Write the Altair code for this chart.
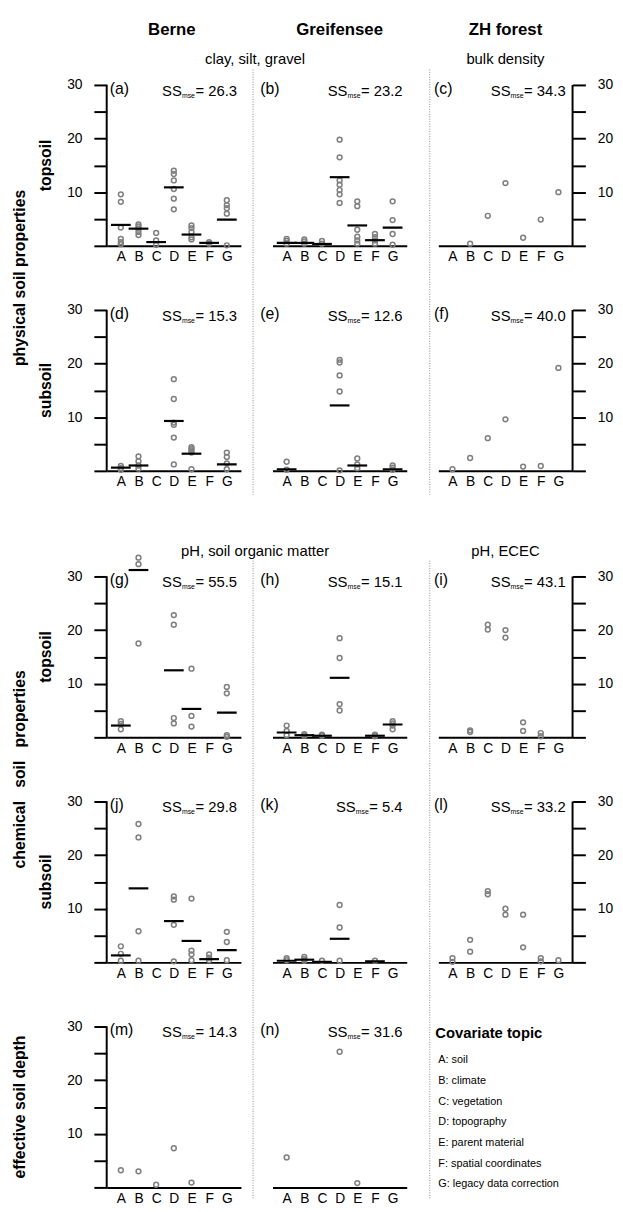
import altair as alt

FONT = "Liberation Sans"
TOPICS = ["A", "B", "C", "D", "E", "F", "G"]
Y_TICKS = [0, 5, 10, 15, 20, 25, 30]
COLUMN_TITLES = ["Berne", "Greifensee", "ZH forest"]
SECTION1 = ["clay, silt, gravel", "bulk density"]
SECTION2 = ["pH, soil organic matter", "pH, ECEC"]
ROW_GROUPS = ["physical soil properties", "chemical\u00a0\u00a0 soil\u00a0\u00a0 properties", "effective soil depth"]
LEGEND_TITLE = "Covariate topic"
LEGEND_ITEMS = ["A: soil", "B: climate", "C: vegetation", "D: topography",
                "E: parent material", "F: spatial coordinates", "G: legacy data correction"]

# ---- data (values per covariate topic) ----
a_pts = {"A": [9.6, 8.2, 3.4, 1.3, 0.7, 0.3], "B": [4.0, 3.6, 3.2, 2.6, 2.0], "C": [2.4, 1.0, 0.2],
         "D": [14.0, 13.4, 12.2, 10.6, 8.8, 6.8], "E": [3.8, 3.3, 2.6, 1.6, 1.2], "F": [0.7, 0.4],
         "G": [8.5, 7.6, 7.0, 6.0, 0.1]}
a_mean = {"A": 3.9, "B": 3.2, "C": 0.7, "D": 10.9, "E": 2.1, "F": 0.55, "G": 4.9}
b_pts = {"A": [1.3, 0.9, 0.4], "B": [1.2, 0.8, 0.4], "C": [0.9, 0.4],
         "D": [19.8, 16.5, 12.2, 11.4, 10.4, 9.6, 8.0], "E": [8.3, 7.4, 3.0, 1.7, 1.0, 0.4],
         "F": [2.2, 1.6, 1.0, 0.4], "G": [8.3, 4.8, 2.2, 0.2]}
b_mean = {"A": 0.55, "B": 0.55, "C": 0.35, "D": 12.8, "E": 3.8, "F": 1.05, "G": 3.4}
c_pts = {"B": [0.4], "C": [5.6], "D": [11.7], "E": [1.5], "F": [4.9], "G": [10.0]}
d_pts = {"A": [0.9, 0.5, 0.2], "B": [2.7, 1.8, 1.0, 0.4], "D": [17.1, 13.4, 9.0, 8.6, 6.2, 1.2],
         "E": [4.4, 4.1, 3.8, 3.4, 0.3], "G": [3.4, 2.6, 1.4, 0.3]}
d_mean = {"A": 0.6, "B": 1.0, "D": 9.3, "E": 3.2, "G": 1.2}
e_pts = {"A": [1.7, 0.2], "D": [20.7, 20.2, 17.8, 14.8, 0.1], "E": [2.3, 1.2, 0.5], "G": [1.0, 0.6, 0.2]}
e_mean = {"A": 0.3, "D": 12.2, "E": 1.0, "G": 0.3}
f_pts = {"A": [0.3], "B": [2.4], "C": [6.1], "D": [9.6], "E": [0.8], "F": [0.9], "G": [19.2]}
g_pts = {"A": [3.0, 2.5, 1.5], "B": [33.5, 32.3, 17.5], "D": [22.8, 21.0, 3.6, 2.6],
         "E": [12.8, 4.0, 2.0], "G": [9.4, 8.2, 0.4, 0.1]}
g_mean = {"A": 2.2, "B": 31.2, "D": 12.5, "E": 5.3, "G": 4.6}
h_pts = {"A": [2.2, 1.2, 0.4], "B": [0.6, 0.3], "C": [0.5, 0.3], "D": [18.5, 14.8, 6.2, 5.0],
         "F": [0.5, 0.2], "G": [3.0, 2.6, 2.2, 1.5]}
h_mean = {"A": 0.9, "B": 0.4, "C": 0.3, "D": 11.1, "F": 0.3, "G": 2.4}
i_pts = {"B": [1.3, 1.0], "C": [21.0, 20.1], "D": [20.0, 18.6], "E": [2.8, 1.2], "F": [0.8, 0.2]}
j_pts = {"A": [3.0, 1.6, 0.3], "B": [25.8, 23.3, 5.8, 0.3], "D": [12.3, 11.7, 7.0, 0.2],
         "E": [11.9, 2.2, 1.5, 0.4], "F": [1.5, 0.9, 0.4], "G": [5.7, 3.8, 0.4]}
j_mean = {"A": 1.3, "B": 13.8, "D": 7.7, "E": 4.0, "F": 0.6, "G": 2.3}
k_pts = {"A": [0.8, 0.4], "B": [1.0, 0.6, 0.3], "C": [0.3], "D": [10.7, 6.5, 0.3], "F": [0.3]}
k_mean = {"A": 0.3, "B": 0.5, "C": 0.1, "D": 4.4, "F": 0.2}
l_pts = {"A": [0.8, 0.1], "B": [4.2, 2.0], "C": [13.3, 12.7], "D": [10.0, 8.9], "E": [8.9, 2.8],
         "F": [0.8, 0.2], "G": [0.4]}
m_pts = {"A": [3.2], "B": [3.0], "C": [0.5], "D": [7.3], "E": [0.9]}
n_pts = {"A": [5.6], "D": [25.3], "E": [0.8]}
SS_MSE = {"a": 26.3, "b": 23.2, "c": 34.3, "d": 15.3, "e": 12.6, "f": 40.0, "g": 55.5,
          "h": 15.1, "i": 43.1, "j": 29.8, "k": 5.4, "l": 33.2, "m": 14.3, "n": 31.6}

# ---- layout ----
W, H = 136, 163
EXTRA = 42
GAP_R, GAP_C = 65, 32
GRAY = "#7f7f7f"
LABEL_DX = [3, -12.4, -4.4]
SS_RIGHT = [132, 131.8, 129]

ARIAL = {"=": 0.584, " ": 0.278, ".": 0.278, "m": 0.833, "s": 0.5, "e": 0.556, "S": 0.667}


def tw(s, fs):
    return sum(ARIAL.get(ch, 0.556) for ch in s) * fs


def txt(text, x, y, size=15, weight="normal", align="left", baseline="alphabetic", angle=0):
    mk = dict(text=text, fontSize=size, fontWeight=weight, align=align, baseline=baseline,
              color="black", font=FONT)
    if angle:
        mk["angle"] = angle
    return alt.Chart(alt.Data(values=[{}])).mark_text(**mk).encode(x=alt.value(x), y=alt.value(y))


def vrule(x, y1, y2):
    return alt.Chart(alt.Data(values=[{}])).mark_rule(
        color="#8a8a8a", strokeWidth=1, strokeDash=[1, 1.5]
    ).encode(x=alt.value(x), y=alt.value(y1), y2=alt.value(y2))


def yaxis(orient):
    return alt.Axis(orient=orient, values=Y_TICKS, domain=False, ticks=True, tickSize=13, tickWidth=2,
                    tickColor="black",
                    labelExpr="datum.value % 10 == 0 && datum.value > 0 ? datum.label : ''",
                    labelFontSize=14, labelFont=FONT, labelColor="black", labelPadding=12,
                    labelOverlap=False, labelFlush=False, labelBaseline="middle", grid=False, title=None)


XAXIS = alt.Axis(orient="bottom", domain=True, domainWidth=2, domainColor="black", ticks=False,
                 labelFontSize=14, labelFont=FONT, labelColor="black", labelPadding=4, labelAngle=0,
                 grid=False, title=None)


def panel(key, pts, means, col, extra=0, decor=()):
    h = H + extra
    ymax = 30.0 * h / H
    t = extra
    xs = alt.Scale(type="point", domain=TOPICS, padding=0.8)
    ys = alt.Scale(domain=[0, ymax], nice=False, zero=False)
    yax = yaxis("left") if col == 0 else (yaxis("right") if col == 2 else None)
    rows = [{"topic": k, "value": v} for k in TOPICS for v in pts.get(k, [])]
    layers = [alt.Chart(alt.Data(values=rows)).mark_point(
        filled=False, size=24, strokeWidth=1.5, color=GRAY, opacity=1
    ).encode(x=alt.X("topic:N", scale=xs, axis=XAXIS), y=alt.Y("value:Q", scale=ys, axis=yax))]
    if means:
        mrows = [{"topic": k, "value": v} for k, v in means.items()]
        layers.append(alt.Chart(alt.Data(values=mrows)).mark_tick(
            color="black", thickness=2.2, size=20, orient="horizontal", opacity=1
        ).encode(x=alt.X("topic:N", scale=xs, axis=XAXIS), y=alt.Y("value:Q", scale=ys, axis=yax)))
    if col != 1:
        layers.append(alt.Chart(alt.Data(values=[{"value": 0, "hi": 30}])).mark_rule(
            color="black", strokeWidth=2
        ).encode(x=alt.value(0 if col == 0 else W), y=alt.Y("value:Q", scale=ys, axis=yax), y2="hi:Q"))
    layers.append(txt("(" + key + ")", LABEL_DX[col], t + 9, 16))
    val = "= %.1f" % SS_MSE[key]
    xr = SS_RIGHT[col]
    wv = tw(val, 15)
    wm = tw("mse", 7)
    layers.append(txt("SS", xr - wv - wm - 0.5, t + 11, 15, align="right"))
    layers.append(txt("mse", xr - wv - 0.5, t + 13, 7, align="right"))
    layers.append(txt(val, xr, t + 11, 15, align="right"))
    layers.extend(decor)
    return alt.layer(*layers).properties(width=W, height=h)


MID12 = 150.3
SPAN = (H + GAP_R + H) / 2.0
BIG_X, SUB_X = -87.7, -61.7
RL = 16
SEC2_END = EXTRA + H + GAP_R + H + GAP_R + H + 12

cells = [
    panel("a", a_pts, a_mean, 0, decor=[
        txt(COLUMN_TITLES[0], 66, -56, 17, "bold", "center", "middle"),
        txt(SECTION1[0], MID12, -26, 15, "normal", "center", "middle"),
        txt(ROW_GROUPS[0], BIG_X, SPAN, RL, "bold", "center", "middle", 270),
        txt("topsoil", SUB_X, H / 2, RL, "bold", "center", "middle", 270)]),
    panel("b", b_pts, b_mean, 1, decor=[
        txt(COLUMN_TITLES[1], 68, -56, 17, "bold", "center", "middle"),
        vrule(-19.7, -15.7, H + GAP_R + H + 24)]),
    panel("c", c_pts, None, 2, decor=[
        txt(COLUMN_TITLES[2], 68, -56, 17, "bold", "center", "middle"),
        txt(SECTION1[1], 68, -26, 15, "normal", "center", "middle"),
        vrule(-8.7, -15.7, H + GAP_R + H + 24)]),
    panel("d", d_pts, d_mean, 0, decor=[
        txt("subsoil", SUB_X, H / 2, RL, "bold", "center", "middle", 270)]),
    panel("e", e_pts, e_mean, 1),
    panel("f", f_pts, None, 2),
    panel("g", g_pts, g_mean, 0, EXTRA, decor=[
        txt(SECTION2[0], MID12, EXTRA - 26, 15, "normal", "center", "middle"),
        txt(ROW_GROUPS[1], BIG_X, EXTRA + SPAN, RL, "bold", "center", "middle", 270),
        txt("topsoil", SUB_X, EXTRA + H / 2, RL, "bold", "center", "middle", 270)]),
    panel("h", h_pts, h_mean, 1, EXTRA, decor=[vrule(-19.7, EXTRA - 16, SEC2_END)]),
    panel("i", i_pts, None, 2, EXTRA, decor=[
        txt(SECTION2[1], 68, EXTRA - 26, 15, "normal", "center", "middle"),
        vrule(-8.7, EXTRA - 16, SEC2_END)]),
    panel("j", j_pts, j_mean, 0, decor=[
        txt("subsoil", SUB_X, H / 2, RL, "bold", "center", "middle", 270)]),
    panel("k", k_pts, k_mean, 1),
    panel("l", l_pts, None, 2),
    panel("m", m_pts, None, 0, decor=[
        txt(ROW_GROUPS[2], BIG_X, H / 2, RL, "bold", "center", "middle", 270)]),
    panel("n", n_pts, None, 1),
]

legend_layers = [txt(LEGEND_TITLE, -3, 12, 15, "bold")]
legend_layers += [txt(item, 0, 37 + 21 * i, 11) for i, item in enumerate(LEGEND_ITEMS)]
cells.append(alt.layer(*legend_layers).properties(width=W, height=H))

chart = alt.concat(
    *cells, columns=3, spacing={"row": GAP_R, "column": GAP_C}, bounds="flush", align="each"
).properties(
    padding={"left": 4, "top": 5, "right": 2, "bottom": 2}
).configure(font=FONT).configure_view(strokeWidth=0)

chart.save("out.html", embed_options={"renderer": "svg", "actions": False})
